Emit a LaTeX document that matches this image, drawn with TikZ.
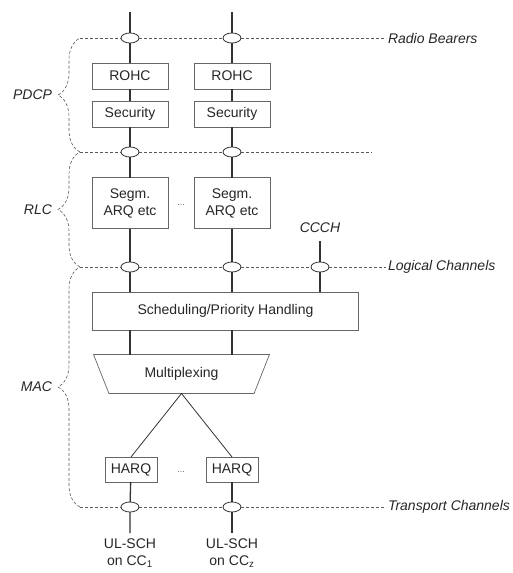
\documentclass[tikz,border=0pt]{standalone}
\usepackage{fontspec}
\setmainfont{Liberation Sans}
\usetikzlibrary{shapes.geometric, shapes, positioning, decorations.pathreplacing}

\begin{document}
\begin{tikzpicture}[x=1pt,y=-1pt,every node/.style={outer sep=0pt,text=black!85,font=\fontsize{14}{17}\selectfont}]
\tikzstyle{block}=[draw=black!60,line width=0.7pt,inner sep=0pt,align=center]
\tikzstyle{sap}=[ellipse,draw=black!80,line width=0.8pt,fill=white,minimum width=18pt,minimum height=10pt,inner sep=0pt]
\tikzstyle{chan}=[line width=1.3pt,draw=black!80]
\tikzstyle{boundary}=[densely dashed,draw=black!65,line width=0.6pt]
\tikzstyle{layerbrace}=[boundary,decorate,decoration={brace,amplitude=22pt}]
\tikzstyle{chanlabel}=[font=\fontsize{14}{17}\selectfont\itshape,inner sep=2pt]

\useasboundingbox (0,0) rectangle (513,573);

% service access points
\node (rb1) [sap] at (130,38) {};
\node (rb2) [sap] at (232,38) {};
\node (pd1) [sap] at (130,152) {};
\node (pd2) [sap] at (232,152) {};
\node (lc1) [sap] at (130,267) {};
\node (lc2) [sap] at (232,267) {};
\node (lc3) [sap] at (320,267) {};
\node (tc1) [sap] at (130,507) {};
\node (tc2) [sap] at (232,507) {};

% PDCP
\node (rohc1) [block,minimum width=76pt,minimum height=26pt] at (130,76) {ROHC};
\node (rohc2) [block,minimum width=76pt,minimum height=26pt] at (232,76) {ROHC};
\node (sec1) [block,minimum width=76pt,minimum height=26pt] at (130,114) {Security};
\node (sec2) [block,minimum width=76pt,minimum height=26pt] at (232,114) {Security};

% RLC
\node (segm1) [block,minimum width=76pt,minimum height=51pt] at (130,203) {Segm.\\ARQ etc};
\node (segm2) [block,minimum width=76pt,minimum height=51pt] at (232,203) {Segm.\\ARQ etc};
\node (dots1) [font=\fontsize{9}{9}\selectfont,text=black!60] at (181,205) {...};
\node (ccch) [chanlabel] at (320,228) {CCCH};
\coordinate (ccchin) at (320,241);

% MAC
\node (sched) [block,minimum width=266pt,minimum height=38pt] at (225.5,311) {Scheduling/Priority Handling};
\node (mux) [block,trapezium,trapezium angle=59,trapezium stretches=true,shape border rotate=180,minimum width=177pt,minimum height=39pt] at (181.5,374) {Multiplexing};
\node (harq1) [block,minimum width=52pt,minimum height=25pt] at (131,469.5) {HARQ};
\node (harq2) [block,minimum width=52pt,minimum height=25pt] at (232,469.5) {HARQ};
\node (dots2) [font=\fontsize{9}{9}\selectfont,text=black!60] at (181,472) {...};

% transport channels
\coordinate (out1) at (130,533);
\coordinate (out2) at (232,533);
\node (ulsch1) [anchor=north,align=center,inner sep=0pt] at (130,539) {UL-SCH\\on CC\textsubscript{1}};
\node (ulsch2) [anchor=north,align=center,inner sep=0pt] at (232,539) {UL-SCH\\on CC\textsubscript{z}};

% data flow
\coordinate (in1) at (130,12);
\coordinate (in2) at (232,12);
\draw[chan] (in1) -- (rb1) -- (rohc1) -- (sec1) -- (pd1) -- (segm1) -- (lc1) -- (lc1 |- sched.north);
\draw[chan] (in2) -- (rb2) -- (rohc2) -- (sec2) -- (pd2) -- (segm2) -- (lc2) -- (lc2 |- sched.north);
\draw[chan] (ccchin) -- (lc3) -- (lc3 |- sched.north);
\draw[chan] (lc1 |- sched.south) -- (lc1 |- mux.north);
\draw[chan] (lc2 |- sched.south) -- (lc2 |- mux.north);
\draw[line width=0.8pt,draw=black!80] (mux.south) -- (harq1.north);
\draw[line width=0.8pt,draw=black!80] (mux.south) -- (harq2.north);
\draw[chan] (harq1) -- (tc1) -- (out1);
\draw[chan] (harq2) -- (tc2) -- (out2);

% layer boundaries
\coordinate (rbL) at (80,38);
\coordinate (pdL) at (80,152);
\coordinate (pdR) at (372,152);
\coordinate (lcL) at (80,267);
\coordinate (tcL) at (80,507);
\node (rbtext) [chanlabel,anchor=west] at (386,38) {Radio Bearers};
\node (lctext) [chanlabel,anchor=west] at (386,267) {Logical Channels};
\node (tctext) [chanlabel,anchor=west] at (386,507) {Transport Channels};
\draw[boundary] (rbL) -- (rb1) -- (rb2) -- (rbtext);
\draw[boundary] (pdL) -- (pd1) -- (pd2) -- (pdR);
\draw[boundary] (lcL) -- (lc1) -- (lc2) -- (lc3) -- (lctext);
\draw[boundary] (tcL) -- (tc1) -- (tc2) -- (tctext);

\draw[layerbrace] (pdL) -- (rbL);
\draw[layerbrace] (lcL) -- (pdL);
\draw[layerbrace] (tcL) -- (lcL);
\node (pdcp) [chanlabel,anchor=east] at (54,95) {PDCP};
\node (rlc) [chanlabel,anchor=east] at (54,209.5) {RLC};
\node (mac) [chanlabel,anchor=east] at (54,387) {MAC};
\end{tikzpicture}
\end{document}
